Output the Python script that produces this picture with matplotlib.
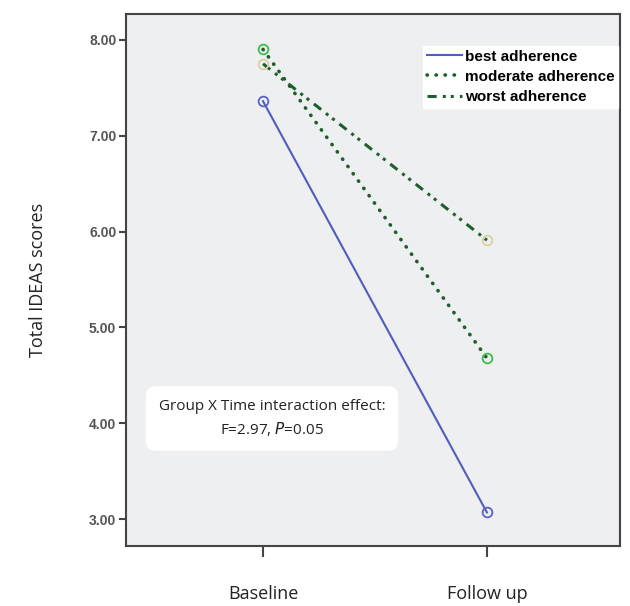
"""Profile plot of total IDEAS scores by adherence group."""

import matplotlib.pyplot as plt

# Data
times = ['Baseline', 'Follow up']
groups = ['best adherence', 'moderate adherence', 'worst adherence']
best = [7.36, 3.07]
moderate = [7.90, 4.68]
worst = [7.75, 5.91]

fig = plt.figure(figsize=(6.3, 6.06), dpi=100)
ax = fig.add_axes([0.2, 0.099, 0.784, 0.878])
ax.set_facecolor('#eeeff0')

x = list(range(len(times)))
ax.plot(x, best, color='#4f5cc0', linewidth=1.5, label=groups[0],
        marker='o', markersize=7, markerfacecolor='none', markeredgecolor='#5a62c4', markeredgewidth=1.3)
ax.plot(x, moderate, color='#1d5f2c', linewidth=2.6, linestyle=(0, (0.1, 2.4)),
        dash_capstyle='round', label=groups[1],
        marker='o', markersize=7, markerfacecolor='none', markeredgecolor='#3fbb4e', markeredgewidth=1.3)
ax.plot(x, worst, color='#1d5f2c', linewidth=2.2, linestyle=(0, (3, 2, 1, 1.6, 1, 2)),
        label=groups[2],
        marker='o', markersize=7, markerfacecolor='none', markeredgecolor='#d9d0a4', markeredgewidth=1.3)

ax.set_xlim(-0.612, 1.594)
ax.set_ylim(2.72, 8.27)
ax.set_xticks(x)
ax.set_xticklabels(times, fontsize=13, family='Open Sans', color='#222222')
ax.set_yticks([3, 4, 5, 6, 7, 8])
ax.set_yticklabels([f'{v:.2f}' for v in [3, 4, 5, 6, 7, 8]],
                   fontsize=10, fontweight='bold', family='Liberation Sans', color='#555555')
ax.tick_params(axis='x', length=8, width=1.5, color='#444444', pad=20)
ax.tick_params(axis='y', length=5, width=1.5, color='#444444', pad=2)
for s in ax.spines.values():
    s.set_color('#444444')
    s.set_linewidth(1.5)

ax.set_ylabel('Total IDEAS scores', fontsize=13, family='Open Sans', color='#222222', labelpad=30)

leg = ax.legend(loc='upper right', bbox_to_anchor=(0.997, 0.94), frameon=True, fancybox=False,
                handlelength=2.3, handletextpad=0.2, labelspacing=0.4, borderpad=0.25,
                borderaxespad=0.0,
                prop={'family': 'Liberation Sans', 'weight': 'bold', 'size': 11})
leg.get_frame().set_facecolor('white')
leg.get_frame().set_edgecolor('white')
leg.get_frame().set_alpha(1)
for h in leg.get_lines():
    h.set_marker('')

ax.text(0.04, 4.05, 'Group X Time interaction effect:\nF=2.97, $\\mathit{P}$=0.05',
        ha='center', va='center', fontsize=11, family='Open Sans', color='#222222',
        linespacing=1.4,
        bbox=dict(boxstyle='round,pad=0.8,rounding_size=0.6', facecolor='white', edgecolor='white'))

fig.savefig('out.png', dpi=100)
